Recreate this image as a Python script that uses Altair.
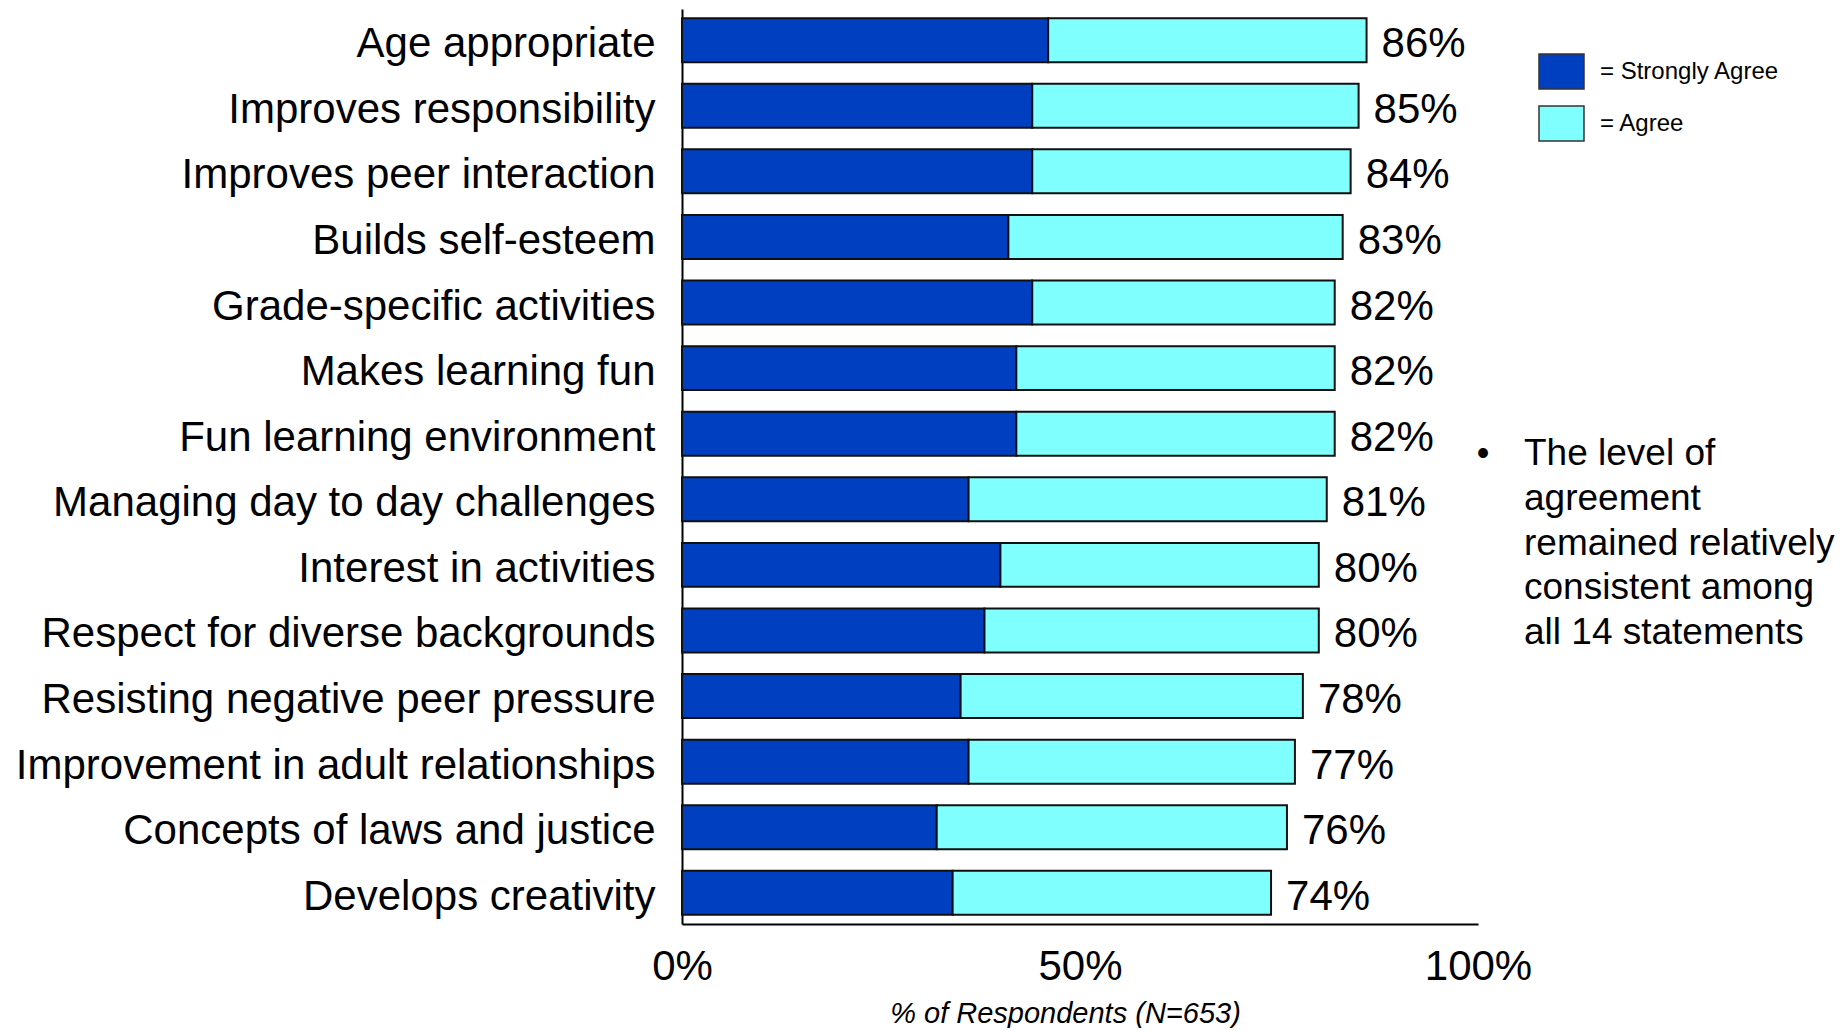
import altair as alt
import pandas as pd

categories = [
    "Age appropriate",
    "Improves responsibility",
    "Improves peer interaction",
    "Builds self-esteem",
    "Grade-specific activities",
    "Makes learning fun",
    "Fun learning environment",
    "Managing day to day challenges",
    "Interest in activities",
    "Respect for diverse backgrounds",
    "Resisting negative peer pressure",
    "Improvement in adult relationships",
    "Concepts of laws and justice",
    "Develops creativity",
]
strongly_agree = [46, 44, 44, 41, 44, 42, 42, 36, 40, 38, 35, 36, 32, 34]
agree = [40, 41, 40, 42, 38, 40, 40, 45, 40, 42, 43, 41, 44, 40]
totals = [86, 85, 84, 83, 82, 82, 82, 81, 80, 80, 78, 77, 76, 74]
levels = ["Strongly Agree", "Agree"]
level_colors = ["#0040C0", "#80FFFF"]
x_ticks = [0, 50, 100]
note_lines = ["The level of", "agreement", "remained relatively", "consistent among", "all 14 statements"]

rows = []
for c, sa, ag in zip(categories, strongly_agree, agree):
    rows.append({"Statement": c, "Level": "Strongly Agree", "Percent": sa, "ord": 0})
    rows.append({"Statement": c, "Level": "Agree", "Percent": ag, "ord": 1})
df = pd.DataFrame(rows)
tot_df = pd.DataFrame({"Statement": categories, "Total": totals,
                       "Label": [f"{t}%" for t in totals]})

SANS = "Liberation Sans, Arial, sans-serif"
NARROW = "Liberation Sans Narrow, Arial Narrow, Liberation Sans, sans-serif"

y_enc = alt.Y("Statement:N", sort=categories,
              scale=alt.Scale(paddingInner=0.33, paddingOuter=0.14),
              axis=alt.Axis(title=None, ticks=False, labelFontSize=42, labelFont=SANS,
                            labelColor="black", labelPadding=27, labelLimit=1000,
                            labelOffset=4,
                            domainColor="black", domainWidth=2, grid=False))
x_scale = alt.Scale(domain=[0, 100])

bars = alt.Chart(df).mark_bar(stroke="#101010", strokeWidth=2).encode(
    y=y_enc,
    x=alt.X("Percent:Q", stack="zero", scale=x_scale,
            axis=alt.Axis(values=x_ticks, labelExpr="datum.value + '%'", ticks=False,
                          labelFontSize=42, labelFont=SANS, labelColor="black",
                          labelPadding=22, labelFlush=False, labelOverlap=False,
                          domainColor="black", domainWidth=2, grid=False,
                          title="% of Respondents (N=653)", titleFont=NARROW,
                          titleFontSize=29, titleFontStyle="italic", titleFontWeight="normal",
                          titleColor="black", titlePadding=12, titleX=383)),
    color=alt.Color("Level:N", scale=alt.Scale(domain=levels, range=level_colors),
                    legend=alt.Legend(title=None, orient="none", legendX=856, legendY=39,
                                      symbolType="M-1,-0.78L1,-0.78L1,0.78L-1,0.78Z",
                                      symbolSize=2025, symbolStrokeColor="#333333",
                                      symbolStrokeWidth=1.5, symbolOpacity=1,
                                      labelFont=NARROW, labelFontSize=24, labelColor="black",
                                      labelLimit=400,
                                      labelOffset=15, rowPadding=7, padding=0,
                                      labelExpr="'= ' + datum.label")),
    order=alt.Order("ord:Q"),
)

labels = alt.Chart(tot_df).mark_text(align="left", baseline="middle", dx=15, dy=4,
                                     fontSize=42, font=SANS, color="black").encode(
    y=alt.Y("Statement:N", sort=categories),
    x=alt.X("Total:Q", scale=x_scale),
    text="Label:N",
)

note = alt.Chart(pd.DataFrame({"t": ["\n".join(note_lines)]})).mark_text(
    align="left", baseline="alphabetic", fontSize=37, font=SANS, color="black",
    lineBreak="\n", lineHeight=44.8).encode(
    x=alt.value(842), y=alt.value(456), text="t:N")

bullet = alt.Chart(pd.DataFrame({"t": ["•"]})).mark_text(
    align="center", baseline="alphabetic", fontSize=36, font=SANS, color="black").encode(
    x=alt.value(801), y=alt.value(456), text="t:N")

chart = alt.layer(bars, labels, note, bullet).properties(
    width=796, height=915,
    padding={"left": 7, "top": 1, "right": 0, "bottom": 0},
).configure_view(stroke=None)

chart.save("out.html", embed_options={"renderer": "svg", "actions": False})
